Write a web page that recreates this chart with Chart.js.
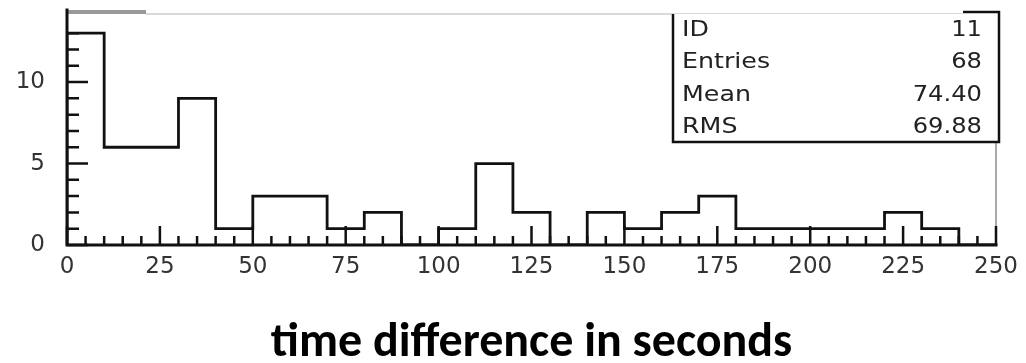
<!DOCTYPE html>
<html>
<head>
<meta charset="utf-8">
<script src="https://cdn.jsdelivr.net/npm/chart.js@4.4.1/dist/chart.umd.min.js"></script>
<style>
  html, body { margin: 0; padding: 0; background: #fff; }
  #wrap { position: relative; width: 1026px; height: 363px; }
</style>
</head>
<body>
<div id="wrap"><canvas id="histo"></canvas></div>
<script>
// lower edge of each 10 s bin, and the counts in it
const binLow = [0, 10, 20, 30, 40, 50, 60, 70, 80, 90, 100, 110, 120,
                130, 140, 150, 160, 170, 180, 190, 200, 210, 220, 230, 240];
const binCounts = [13, 6, 6, 9, 1, 3, 3, 1, 2, 0, 1, 5, 2,
                   0, 2, 1, 2, 3, 1, 1, 1, 1, 2, 1, 0];
const binWidth = 10;

const xMajorTicks = [0, 25, 50, 75, 100, 125, 150, 175, 200, 225, 250];
const yMajorTicks = [0, 5, 10];

const statNames = ['ID', 'Entries', 'Mean', 'RMS'];
const statValues = ['11', '68', '74.40', '69.88'];
const xTitle = 'time difference in seconds';

const ink = '#111';
const tickFont = { family: 'DejaVu Sans', size: 23 };

// step outline: start on the baseline at x=0, then one point per bin edge
const outline = [{ x: binLow[0], y: 0 }];
binLow.forEach((lo, i) => outline.push({ x: lo, y: binCounts[i] }));
outline.push({ x: binLow[binLow.length - 1] + binWidth, y: 0 });

// text squeezed/stretched horizontally around an anchor
function wideText(ctx, text, x, y, align, sx) {
  ctx.save();
  ctx.translate(x, y);
  ctx.scale(sx, 1);
  ctx.textAlign = align;
  ctx.fillText(text, 0, 0);
  ctx.restore();
}

// frame, inward ticks and the stats box
const frameDecor = {
  id: 'frameDecor',
  afterDraw(chart) {
    const { ctx, chartArea: a, scales: { x, y } } = chart;
    ctx.save();

    // faded top edge
    ctx.strokeStyle = '#999';
    ctx.lineWidth = 4;
    ctx.beginPath(); ctx.moveTo(a.left, a.top); ctx.lineTo(146, a.top); ctx.stroke();
    ctx.strokeStyle = '#ccc';
    ctx.lineWidth = 1.5;
    ctx.beginPath(); ctx.moveTo(146, a.top + 2); ctx.lineTo(963, a.top + 2); ctx.stroke();

    // right edge below the stats box
    const boxL = 673, boxT = a.top, boxR = a.right + 3, boxB = 142;
    ctx.strokeStyle = '#aaa';
    ctx.lineWidth = 2;
    ctx.beginPath(); ctx.moveTo(a.right, boxB); ctx.lineTo(a.right, a.bottom - 19); ctx.stroke();

    // left and bottom axes
    ctx.strokeStyle = ink;
    ctx.lineWidth = 3;
    ctx.lineCap = 'square';
    ctx.beginPath();
    ctx.moveTo(a.left, a.top - 2);
    ctx.lineTo(a.left, a.bottom);
    ctx.lineTo(a.right, a.bottom);
    ctx.stroke();

    // ticks pointing into the plot
    ctx.lineWidth = 2.5;
    ctx.lineCap = 'butt';
    ctx.beginPath();
    x.ticks.forEach(t => {
      const px = x.getPixelForValue(t.value);
      const len = xMajorTicks.includes(t.value) ? 19 : 9;
      ctx.moveTo(px, a.bottom);
      ctx.lineTo(px, a.bottom - len);
    });
    y.ticks.forEach(t => {
      if (!Number.isInteger(t.value)) return;
      const py = y.getPixelForValue(t.value);
      const len = yMajorTicks.includes(t.value) ? 21 : 12;
      ctx.moveTo(a.left, py);
      ctx.lineTo(a.left + len, py);
    });
    ctx.stroke();

    // stats box
    ctx.fillStyle = '#fff';
    ctx.fillRect(boxL, boxT + 2, boxR - boxL, boxB - boxT - 2);
    ctx.strokeStyle = ink;
    ctx.lineWidth = 2.5;
    ctx.beginPath();
    ctx.moveTo(963, boxT);
    ctx.lineTo(boxR, boxT);
    ctx.lineTo(boxR, boxB);
    ctx.lineTo(boxL, boxB);
    ctx.lineTo(boxL, boxT + 2);
    ctx.stroke();

    ctx.fillStyle = '#222';
    ctx.font = '22px "DejaVu Sans"';
    ctx.textBaseline = 'alphabetic';
    statNames.forEach((name, i) => {
      const base = 36 + i * 32.3;
      wideText(ctx, name, 682, base, 'left', 1.15);
      wideText(ctx, statValues[i], 982, base, 'right', 1.1);
    });

    ctx.restore();
  }
};

new Chart(document.getElementById('histo'), {
  type: 'line',
  data: {
    datasets: [{
      data: outline,
      stepped: 'before',
      borderColor: ink,
      borderWidth: 2.8,
      pointRadius: 0,
      fill: false
    }]
  },
  options: {
    responsive: true,
    maintainAspectRatio: false,
    animation: false,
    layout: { padding: { left: 0, right: 30, top: 12, bottom: 0 } },
    plugins: { legend: { display: false }, tooltip: { enabled: false } },
    scales: {
      x: {
        type: 'linear',
        min: 0,
        max: 250,
        grid: { display: false, drawTicks: false },
        border: { display: false },
        ticks: {
          stepSize: 5,
          autoSkip: false,
          maxRotation: 0,
          padding: 8,
          color: '#333',
          font: tickFont,
          callback: v => (xMajorTicks.includes(v) ? String(v) : '')
        },
        title: {
          display: true,
          text: xTitle,
          color: '#000',
          font: { family: 'Carlito, "Open Sans"', size: 48, weight: 'bold', lineHeight: 0.8 },
          padding: { top: 0, bottom: 0 }
        },
        afterFit: s => {
          s.height = 118;
          s.paddingLeft = 0;
          s.paddingRight = 0;
        }
      },
      y: {
        min: 0,
        max: 14.3,
        grid: { display: false, drawTicks: false },
        border: { display: false },
        ticks: {
          stepSize: 1,
          autoSkip: false,
          padding: 22,
          color: '#333',
          font: tickFont,
          callback: v => (yMajorTicks.includes(v) ? String(v) : '')
        },
        afterFit: s => {
          s.width = 67;
          s.paddingTop = 0;
          s.paddingBottom = 0;
        }
      }
    }
  },
  plugins: [frameDecor]
});
</script>
</body>
</html>
